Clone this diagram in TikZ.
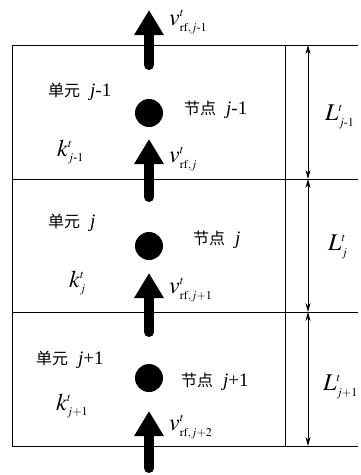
\documentclass[tikz,border=0pt]{standalone}
\usepackage{amsmath}
\usepackage{mathptmx}
\usepackage{fontspec}
\setmainfont{Liberation Serif}
\newfontfamily\cjk{Noto Sans CJK SC}
\usetikzlibrary{positioning,arrows.meta}
\DeclareMathSizes{24}{24}{12}{9}

\newcommand{\cellLabel}[1]{{\cjk\fontsize{16}{19}\selectfont 单元}\hspace{10pt}\textit{j}#1}
\newcommand{\nodeLabel}[1]{{\cjk\fontsize{16}{19}\selectfont 节点}\hspace{10pt}\textit{j}#1}

\begin{document}
\begin{tikzpicture}[x=1pt, y=-1pt, font=\fontsize{19}{22}\selectfont,
  thinline/.style={line width=0.8pt},
  flow/.style={line width=10pt, line cap=round, -{Triangle[length=25pt,width=28pt]}},
  dim/.style={line width=0.7pt, {Stealth[length=9pt,width=5pt]}-{Stealth[length=9pt,width=5pt]}},
  dot/.style={circle, fill, inner sep=0pt, minimum size=28pt},
  mlabel/.style={anchor=west, inner sep=0pt, font=\fontsize{24}{28}\selectfont},
  tlabel/.style={anchor=west, inner sep=0pt}]

  \useasboundingbox (0,0) rectangle (360,475);

  % --- Parameters ---
  \pgfmathsetmacro{\xL}{12}    % left edge of the cells
  \pgfmathsetmacro{\xM}{285}   % right edge of the cells
  \pgfmathsetmacro{\xR}{358}   % end of the horizontal lines
  \pgfmathsetmacro{\xD}{308}   % dimension arrows
  \pgfmathsetmacro{\xC}{149}   % centre line (nodes and flow)
  \pgfmathsetmacro{\yA}{45}    % cell borders, top to bottom
  \pgfmathsetmacro{\yB}{179}
  \pgfmathsetmacro{\yC}{312}
  \pgfmathsetmacro{\yD}{446}

  % --- Cell borders ---
  \draw[thinline] (\xL,\yA) -- (\xR,\yA);
  \draw[thinline] (\xL,\yB) -- (\xR,\yB);
  \draw[thinline] (\xL,\yC) -- (\xR,\yC);
  \draw[thinline] (\xL,\yD) -- (\xR,\yD);
  \draw[thinline] (\xL,\yA) -- (\xL,\yD);
  \draw[thinline] (\xM,\yA) -- (\xM,\yD);

  % --- Nodes ---
  \node[dot] (n1) at (\xC,113) {};
  \node[dot] (n2) at (\xC,246) {};
  \node[dot] (n3) at (\xC,378) {};

  % --- Flow arrows ---
  \coordinate (f1s) at (\xC,65);  \coordinate (f1e) at (\xC,10);
  \coordinate (f2s) at (\xC,197); \coordinate (f2e) at (\xC,139);
  \coordinate (f3s) at (\xC,332); \coordinate (f3e) at (\xC,273);
  \coordinate (f4s) at (\xC,468); \coordinate (f4e) at (\xC,411);
  \draw[flow] (f1s) -- (f1e);
  \draw[flow] (f2s) -- (f2e);
  \draw[flow] (f3s) -- (f3e);
  \draw[flow] (f4s) -- (f4e);

  % --- Flow labels ---
  \node[mlabel] (v1) at (169,22)  {$v^{t}_{\mathrm{rf},j\text{-}1}$};
  \node[mlabel] (v2) at (169,159) {$v^{t}_{\mathrm{rf},j}$};
  \node[mlabel] (v3) at (169,290) {$v^{t}_{\mathrm{rf},j+1}$};
  \node[mlabel] (v4) at (169,427) {$v^{t}_{\mathrm{rf},j+2}$};

  % --- Cell and node names ---
  \node[tlabel] (c1) at (48,92)   {\cellLabel{-1}};
  \node[tlabel] (c2) at (48,223)  {\cellLabel{}};
  \node[tlabel] (c3) at (36,360)  {\cellLabel{+1}};
  \node[tlabel] (p1) at (184,110) {\nodeLabel{-1}};
  \node[tlabel] (p2) at (193,240) {\nodeLabel{}};
  \node[tlabel] (p3) at (181,382) {\nodeLabel{+1}};

  % --- Stiffness labels ---
  \node[mlabel] (k1) at (57,152) {$k^{t}_{j\text{-}1}$};
  \node[mlabel] (k2) at (69,283) {$k^{t}_{j}$};
  \node[mlabel] (k3) at (56,406) {$k^{t}_{j+1}$};

  % --- Cell lengths ---
  \coordinate (d0) at (\xD,\yA);
  \coordinate (d1) at (\xD,\yB);
  \coordinate (d2) at (\xD,\yC);
  \coordinate (d3) at (\xD,\yD);
  \draw[dim] (d0) -- (d1);
  \draw[dim] (d1) -- (d2);
  \draw[dim] (d2) -- (d3);
  \node[mlabel] (L1) at (325,117) {$L^{t}_{j\text{-}1}$};
  \node[mlabel] (L2) at (328,247) {$L^{t}_{j}$};
  \node[mlabel] (L3) at (323,387) {$L^{t}_{j+1}$};

\end{tikzpicture}
\end{document}
